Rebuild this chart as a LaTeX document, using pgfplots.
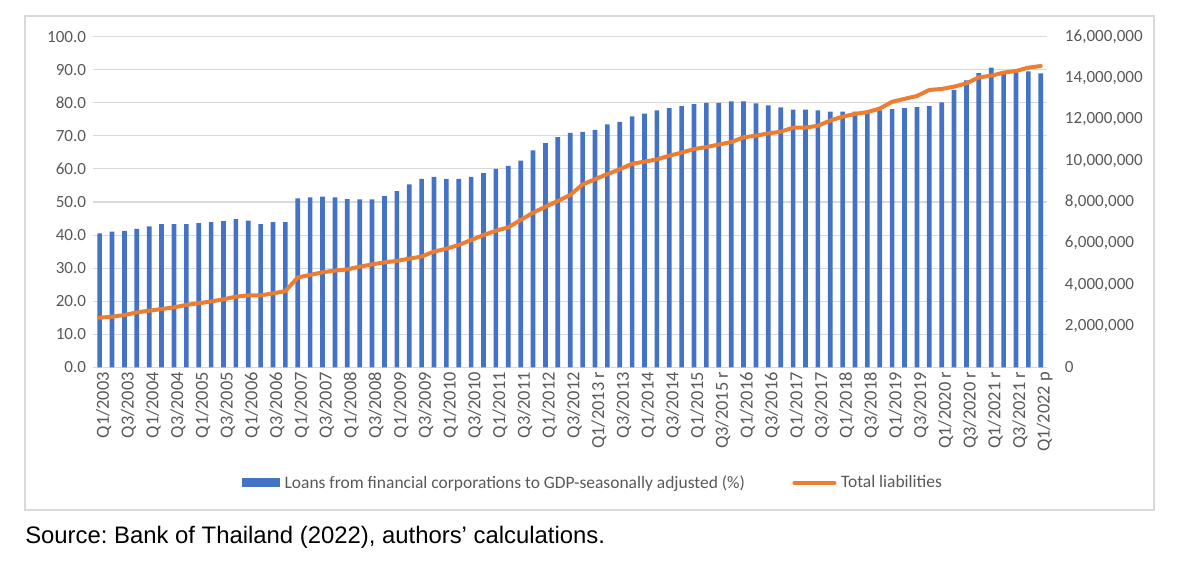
\documentclass[border=0pt]{standalone}
\usepackage{pgfplots}
\pgfplotsset{compat=1.18}
\usepackage{fontspec}
\setmainfont{Carlito}
\newfontfamily\arialfont{Liberation Sans}
\definecolor{barblue}{HTML}{4472C4}
\definecolor{lineorange}{HTML}{ED7D31}
\definecolor{gridgray}{HTML}{D9D9D9}
\definecolor{txtgray}{HTML}{595959}
\frenchspacing
\begin{document}
\begin{tikzpicture}
\path[use as bounding box] (0,0) rectangle (900pt,435pt);
\draw[gridgray, line width=1.3pt] (18.75pt,52.5pt) rectangle (865.5pt,423pt);
\node[anchor=base west, inner sep=0pt, font=\arialfont\fontsize{17.9}{21}\selectfont] at (18.75pt,27.5pt) {Source: Bank of Thailand (2022), authors’ calculations.};
\begin{axis}[
  at={(70.1pt,159.5pt)}, anchor=south west,
  scale only axis, width=715.1pt, height=248pt,
  xmin=-0.5, xmax=76.5, ymin=0, ymax=100,
  ytick={0,10,...,100},
  axis line style={draw=none},
  major tick length=0pt,
  ymajorgrids, grid style={gridgray, line width=0.8pt},
  yticklabel style={/pgf/number format/fixed, /pgf/number format/fixed zerofill, /pgf/number format/precision=1, /pgf/number format/assume math mode=true, font=\fontsize{12.8}{14}\selectfont, text=txtgray, xshift=-2pt},
  xtick={0,2,...,76},
  xticklabels={Q1/2003,Q3/2003,Q1/2004,Q3/2004,Q1/2005,Q3/2005,Q1/2006,Q3/2006,Q1/2007,Q3/2007,Q1/2008,Q3/2008,Q1/2009,Q3/2009,Q1/2010,Q3/2010,Q1/2011,Q3/2011,Q1/2012,Q3/2012,Q1/2013 r,Q3/2013,Q1/2014,Q3/2014,Q1/2015,Q3/2015 r,Q1/2016,Q3/2016,Q1/2017,Q3/2017,Q1/2018,Q3/2018,Q1/2019,Q3/2019,Q1/2020 r,Q3/2020 r,Q1/2021 r,Q3/2021 r,Q1/2022 p},
  x tick label style={rotate=90, anchor=east, font=\fontsize{13.8}{16}\selectfont, text=txtgray, yshift=-3pt},
  clip=false,
]
\addplot[ybar, bar width=3.5pt, bar shift=0pt, fill=barblue, draw=none] coordinates {
(0,40.5)(1,41.0)(2,41.3)(3,41.9)(4,42.6)(5,43.3)(6,43.3)(7,43.3)(8,43.6)(9,43.9)(10,44.2)(11,44.8)(12,44.4)(13,43.3)(14,43.9)(15,43.9)
(16,51.1)(17,51.4)(18,51.6)(19,51.4)(20,50.9)(21,50.8)(22,50.8)(23,51.8)(24,53.3)(25,55.3)(26,57.0)(27,57.6)(28,57.0)(29,57.0)(30,57.6)(31,58.7)
(32,60.0)(33,60.9)(34,62.5)(35,65.6)(36,67.8)(37,69.6)(38,70.9)(39,71.2)(40,71.8)(41,73.5)(42,74.2)(43,75.9)(44,76.7)(45,77.7)(46,78.4)(47,79.0)
(48,79.6)(49,80.0)(50,80.0)(51,80.4)(52,80.4)(53,79.8)(54,79.2)(55,78.6)(56,77.9)(57,77.9)(58,77.7)(59,77.3)(60,77.3)(61,77.3)(62,77.3)(63,77.7)
(64,78.1)(65,78.4)(66,78.7)(67,79.0)(68,80.1)(69,83.9)(70,86.8)(71,89.0)(72,90.6)(73,89.5)(74,89.3)(75,89.5)(76,88.9)
};
\end{axis}
\begin{axis}[
  at={(70.1pt,159.5pt)}, anchor=south west,
  scale only axis, width=715.1pt, height=248pt,
  xmin=-0.5, xmax=76.5, ymin=0, ymax=16000000,
  ytick={0,2000000,4000000,6000000,8000000,10000000,12000000,14000000,16000000},
  axis y line*=right, axis x line=none,
  axis line style={draw=none},
  major tick length=0pt,
  scaled y ticks=false,
  yticklabel style={/pgf/number format/fixed, /pgf/number format/precision=0, /pgf/number format/1000 sep={,}, /pgf/number format/assume math mode=true, font=\fontsize{12.8}{14}\selectfont, text=txtgray, anchor=west, xshift=10pt},
  xtick=\empty,
  legend columns=2,
  legend style={at={(0.524,-0.349)}, anchor=center, draw=none, fill=none,
    font=\fontsize{13.1}{15}\selectfont, text=txtgray,
    /tikz/every even column/.append style={column sep=34pt},
    /tikz/every odd column/.append style={column sep=2pt},
    nodes={inner sep=1.5pt}},
  clip=false,
]
\addlegendimage{legend image code/.code={\fill[barblue] (0pt,-3pt) rectangle (28pt,3pt);}}
\addlegendentry{Loans from financial corporations to GDP-seasonally adjusted (\%)}
\addplot[lineorange, line width=3pt, line join=round, line cap=round, no marks,
  legend image code/.code={\draw[lineorange, line width=3pt, line cap=round] (0pt,0pt) -- (30pt,0pt);}] coordinates {
(0,2400000)(1,2450000)(2,2530000)(3,2660000)(4,2740000)(5,2820000)(6,2900000)(7,3020000)(8,3100000)(9,3190000)(10,3290000)(11,3420000)(12,3480000)(13,3480000)(14,3580000)(15,3690000)
(16,4350000)(17,4470000)(18,4600000)(19,4680000)(20,4740000)(21,4870000)(22,4980000)(23,5080000)(24,5150000)(25,5260000)(26,5360000)(27,5600000)(28,5740000)(29,5920000)(30,6160000)(31,6400000)
(32,6610000)(33,6770000)(34,7130000)(35,7480000)(36,7770000)(37,8050000)(38,8340000)(39,8850000)(40,9100000)(41,9350000)(42,9580000)(43,9850000)(44,9950000)(45,10060000)(46,10240000)(47,10390000)
(48,10560000)(49,10660000)(50,10780000)(51,10900000)(52,11130000)(53,11210000)(54,11320000)(55,11400000)(56,11600000)(57,11600000)(58,11690000)(59,11940000)(60,12130000)(61,12260000)(62,12350000)(63,12520000)
(64,12850000)(65,12990000)(66,13130000)(67,13420000)(68,13470000)(69,13580000)(70,13740000)(71,14030000)(72,14110000)(73,14260000)(74,14340000)(75,14500000)(76,14580000)
};
\addlegendentry{Total liabilities}
\end{axis}
\end{tikzpicture}
\end{document}
